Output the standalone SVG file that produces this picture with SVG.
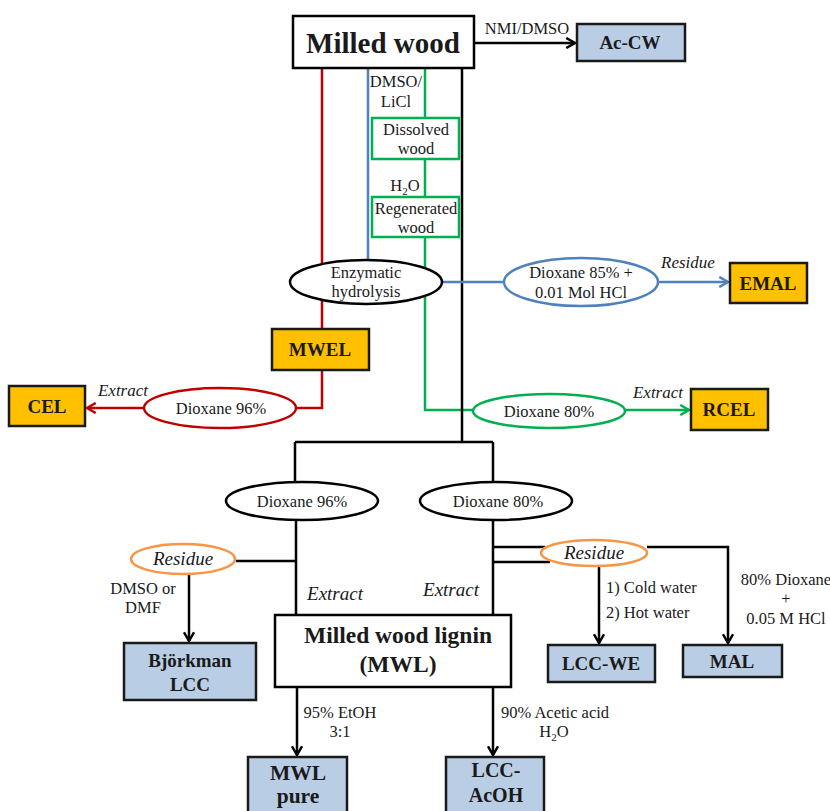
<svg xmlns="http://www.w3.org/2000/svg" width="830" height="811" viewBox="0 0 830 811">
<defs>
<style>
text{font-family:"Liberation Serif","Times New Roman",serif;fill:#1a1a1a}
.lbl{font-size:16.5px}
.it{font-size:17px;font-style:italic}
.it2{font-size:19px;font-style:italic}
.b{font-weight:bold;font-size:19px}
.c{text-anchor:middle}
.box{fill:#fff;stroke:#000;stroke-width:2.5}
.org{fill:#ffc000;stroke:#1a1a1a;stroke-width:2.5}
.blu{fill:#b9cde5;stroke:#1a1a1a;stroke-width:2.5}
.k{stroke:#000;stroke-width:2.5;fill:none}
.r{stroke:#c00000;stroke-width:2.5;fill:none}
.bl{stroke:#4f81bd;stroke-width:2.5;fill:none}
.g{stroke:#00b050;stroke-width:2.5;fill:none}
.gbox{fill:#fff;stroke:#00b050;stroke-width:2.5}
.ell{fill:#fff;stroke-width:2.5}
</style>
<marker id="ak" viewBox="0 0 10 10" refX="8" refY="5" markerWidth="5" markerHeight="5" orient="auto" markerUnits="strokeWidth"><path d="M1,1 L8,5 L1,9" fill="none" stroke="#000" stroke-width="2"/></marker>
<marker id="ar" viewBox="0 0 10 10" refX="8" refY="5" markerWidth="5" markerHeight="5" orient="auto" markerUnits="strokeWidth"><path d="M1,1 L8,5 L1,9" fill="none" stroke="#c00000" stroke-width="2"/></marker>
<marker id="ab" viewBox="0 0 10 10" refX="8" refY="5" markerWidth="5" markerHeight="5" orient="auto" markerUnits="strokeWidth"><path d="M1,1 L8,5 L1,9" fill="none" stroke="#4f81bd" stroke-width="2"/></marker>
<marker id="ag" viewBox="0 0 10 10" refX="8" refY="5" markerWidth="5" markerHeight="5" orient="auto" markerUnits="strokeWidth"><path d="M1,1 L8,5 L1,9" fill="none" stroke="#00b050" stroke-width="2"/></marker>
</defs>

<g id="connectors">
<path class="k" d="M474,43 H575" marker-end="url(#ak)"/>
<path class="r" d="M322,68 V408 H296"/>
<path class="r" d="M144,408 H87" marker-end="url(#ar)"/>
<path class="bl" d="M368,68 V260"/>
<path class="g" d="M425,68 V118 M425,159 V197 M425,237 V410 H473"/>
<path class="k" d="M462,68 V442 M295,442 H493 M295,442 V482 M493,442 V482"/>
<path class="bl" d="M443,282 H505"/>
<path class="bl" d="M658,282 H728" marker-end="url(#ab)"/>
<path class="g" d="M625,410 H689" marker-end="url(#ag)"/>
<path class="k" d="M296,520 V615 M493,520 V615"/>
<path class="k" d="M236,561 H295"/>
<path class="k" d="M189,574 V641" marker-end="url(#ak)"/>
<path class="k" d="M493,547 H545 M493,562 H550"/>
<path class="k" d="M647,547 H728 V643" marker-end="url(#ak)"/>
<path class="k" d="M599,566 V643" marker-end="url(#ak)"/>
<path class="k" d="M297,687 V755" marker-end="url(#ak)"/>
<path class="k" d="M493,687 V755" marker-end="url(#ak)"/>
</g>

<g id="milled-wood"><rect class="box" x="293" y="16" width="181" height="52"/><text x="383" y="53" class="c" style="font-weight:bold;font-size:29px">Milled wood</text></g>
<g id="nmi-label"><text x="527" y="34" class="lbl c">NMI/DMSO</text></g>
<g id="ac-cw"><rect class="blu" x="577" y="24" width="108" height="37"/><text x="630" y="49" class="b c">Ac-CW</text></g>

<g id="dmso-licl"><text x="396" y="87" class="lbl c">DMSO/</text><text x="396" y="107" class="lbl c">LiCl</text></g>
<g id="dissolved"><rect class="gbox" x="372" y="118" width="87" height="41"/><text x="416" y="135" class="lbl c">Dissolved</text><text x="416" y="154" class="lbl c">wood</text></g>
<g id="h2o-1"><text x="405" y="191" class="lbl c">H<tspan font-size="11" dy="4">2</tspan><tspan dy="-4">O</tspan></text></g>
<g id="regenerated"><rect class="gbox" x="372" y="197" width="87" height="40"/><text x="416" y="214" class="lbl c">Regenerated</text><text x="416" y="233" class="lbl c">wood</text></g>

<g id="enzymatic"><ellipse class="ell" stroke="#000" cx="366" cy="282" rx="76" ry="22"/><text x="366" y="278" class="lbl c">Enzymatic</text><text x="366" y="297" class="lbl c">hydrolysis</text></g>
<g id="diox85"><ellipse class="ell" stroke="#4f81bd" cx="581" cy="282" rx="77" ry="24"/><text x="581" y="278" class="lbl c">Dioxane 85% +</text><text x="581" y="298" class="lbl c">0.01 Mol HCl</text></g>
<g id="residue-emal"><text x="688" y="268" class="it c">Residue</text></g>
<g id="emal"><rect class="org" x="730" y="263" width="77" height="40"/><text x="768" y="290" class="b c">EMAL</text></g>

<g id="mwel"><rect class="org" x="272" y="329" width="97" height="41"/><text x="320" y="356" class="b c">MWEL</text></g>
<g id="diox96r"><ellipse class="ell" stroke="#c00000" cx="220" cy="408" rx="76" ry="20"/><text x="221" y="414" class="lbl c">Dioxane 96%</text></g>
<g id="extract-cel"><text x="123" y="396" class="it c">Extract</text></g>
<g id="cel"><rect class="org" x="9" y="386" width="76" height="40"/><text x="47" y="413" class="b c">CEL</text></g>

<g id="diox80g"><ellipse class="ell" stroke="#00b050" cx="549" cy="411" rx="76" ry="17"/><text x="549" y="417" class="lbl c">Dioxane 80%</text></g>
<g id="extract-rcel"><text x="658" y="398" class="it c">Extract</text></g>
<g id="rcel"><rect class="org" x="691" y="389" width="77" height="41"/><text x="729" y="416" class="b c">RCEL</text></g>

<g id="diox96"><ellipse class="ell" stroke="#000" cx="302" cy="501" rx="76" ry="19"/><text x="302" y="507" class="lbl c">Dioxane 96%</text></g>
<g id="diox80"><ellipse class="ell" stroke="#000" cx="496" cy="501" rx="76" ry="19"/><text x="498" y="507" class="lbl c">Dioxane 80%</text></g>

<g id="residue-left"><ellipse class="ell" stroke="#f79646" cx="183" cy="559" rx="52" ry="15"/><text x="183" y="565" class="it2 c">Residue</text></g>
<g id="dmso-dmf"><text x="143" y="594" class="lbl c">DMSO or</text><text x="143" y="613" class="lbl c">DMF</text></g>
<g id="bjorkman"><rect class="blu" x="124" y="643" width="132" height="57"/><text x="190" y="667" class="b c">Björkman</text><text x="190" y="691" class="b c">LCC</text></g>

<g id="extract-l"><text x="335" y="600" class="it2 c">Extract</text></g>
<g id="extract-r"><text x="451" y="596" class="it2 c">Extract</text></g>

<g id="residue-right"><ellipse class="ell" stroke="#f79646" cx="594" cy="553" rx="53" ry="13"/><text x="594" y="559" class="it2 c">Residue</text></g>
<g id="water-labels"><text x="606" y="593" class="lbl">1) Cold water</text><text x="606" y="618" class="lbl">2) Hot water</text></g>
<g id="mal-labels"><text x="786" y="585" class="lbl c">80% Dioxane</text><text x="786" y="604" class="lbl c">+</text><text x="786" y="624" class="lbl c">0.05 M HCl</text></g>
<g id="lcc-we"><rect class="blu" x="548" y="645" width="107" height="37"/><text x="601" y="670" class="b c">LCC-WE</text></g>
<g id="mal"><rect class="blu" x="683" y="645" width="99" height="32"/><text x="732" y="668" class="b c">MAL</text></g>

<g id="mwl"><rect class="box" x="275" y="615" width="236" height="72"/><text x="398" y="643" class="c" style="font-weight:bold;font-size:23.5px">Milled wood lignin</text><text x="398" y="672" class="c" style="font-weight:bold;font-size:23.5px">(MWL)</text></g>
<g id="etoh"><text x="340" y="718" class="lbl c">95% EtOH</text><text x="340" y="737" class="lbl c">3:1</text></g>
<g id="acetic"><text x="555" y="718" class="lbl c">90% Acetic acid</text><text x="554" y="737" class="lbl c">H<tspan font-size="11" dy="4">2</tspan><tspan dy="-4">O</tspan></text></g>
<g id="mwl-pure"><rect class="blu" x="248" y="757" width="99" height="60"/><text x="298" y="780" class="c" style="font-weight:bold;font-size:21.5px">MWL</text><text x="298" y="803" class="c" style="font-weight:bold;font-size:21.5px">pure</text></g>
<g id="lcc-acoh"><rect class="blu" x="446" y="757" width="98" height="60"/><text x="496" y="777" class="c" style="font-weight:bold;font-size:20px">LCC-</text><text x="496" y="802" class="c" style="font-weight:bold;font-size:20px">AcOH</text></g>
</svg>
